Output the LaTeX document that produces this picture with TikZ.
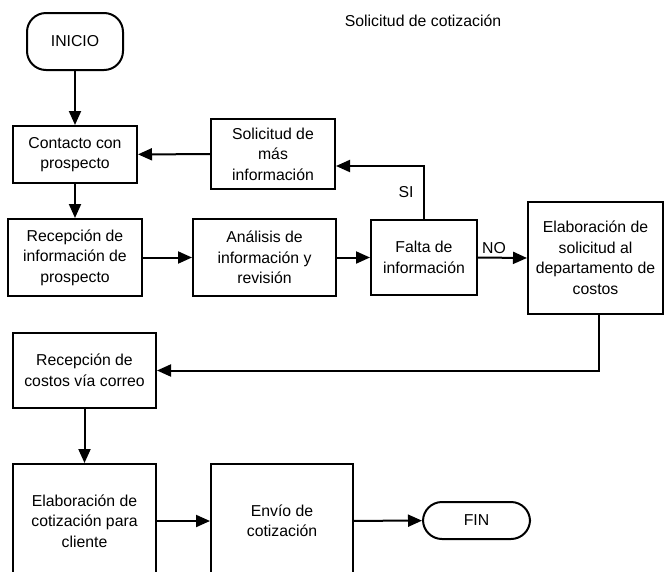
\documentclass[tikz,border=0pt]{standalone}
\usepackage{fontspec}
\setmainfont{Liberation Sans}
\usetikzlibrary{arrows.meta}

\begin{document}
\begin{tikzpicture}[x=1pt,y=-1pt,
		caja/.style={draw, line width=2pt, align=center, inner sep=0pt},
		terminal/.style={draw, line width=2pt, rounded corners=19pt, align=center, inner sep=0pt},
		flecha/.style={line width=2pt, -{Triangle[length=14pt,width=12pt]}},
		font=\fontsize{15.8}{20.5}\selectfont]
		\useasboundingbox (0,0) rectangle (664,571);
		
		\node (titulo) at (423,21) {Solicitud de cotización};
		
		\node[terminal, minimum width=96pt, minimum height=57pt] (inicio) at (75,41.5) {INICIO};
		\node[caja, minimum width=124pt, minimum height=57pt] (contacto) at (75,154.5) {Contacto con\\prospecto};
		\node[caja, minimum width=124pt, minimum height=70pt] (solicitud) at (273,154) {Solicitud de\\más\\información};
		\node[caja, minimum width=134pt, minimum height=77pt] (recepcion) at (75,257.5) {Recepción de\\información de\\prospecto};
		\node[caja, minimum width=143pt, minimum height=77pt] (analisis) at (264.5,257.5) {Análisis de\\información y\\revisión};
		\node[caja, minimum width=106pt, minimum height=75pt] (falta) at (424,257.5) {Falta de\\información};
		\node[caja, minimum width=135pt, minimum height=112pt] (elabsol) at (595.5,258) {Elaboración de\\solicitud al\\departamento de\\costos};
		\node[caja, minimum width=143pt, minimum height=75pt] (costos) at (84.5,370.5) {Recepción de\\costos vía correo};
		\node[caja, minimum width=143pt, minimum height=114pt] (elabcot) at (84.5,521) {Elaboración de\\cotización para\\cliente};
		\node[caja, minimum width=142pt, minimum height=114pt] (envio) at (282,521) {Envío de\\cotización};
		\node[terminal, minimum width=107pt, minimum height=37pt] (fin) at (476.5,520.5) {FIN};
		
		\coordinate (entradaSI) at ([yshift=-12pt]solicitud.east);
		
		\draw[flecha] (inicio) -- (contacto);
		\draw[flecha] (solicitud) -- (contacto);
		\draw[flecha] (contacto) -- (recepcion);
		\draw[flecha] (recepcion) -- (analisis);
		\draw[flecha] (analisis) -- (falta);
		\draw[flecha] (falta.east) -- (elabsol.west);
		\draw[flecha] (falta.north) |- (entradaSI);
		\draw[flecha] ([xshift=3pt]elabsol.south) |- (costos.east);
		\draw[flecha] (costos) -- (elabcot);
		\draw[flecha] (elabcot) -- (envio);
		\draw[flecha] (envio) -- (fin);
		
		\node (si) at (406,192) {SI};
		\node (no) at (494,248) {NO};
	\end{tikzpicture}
\end{document}
